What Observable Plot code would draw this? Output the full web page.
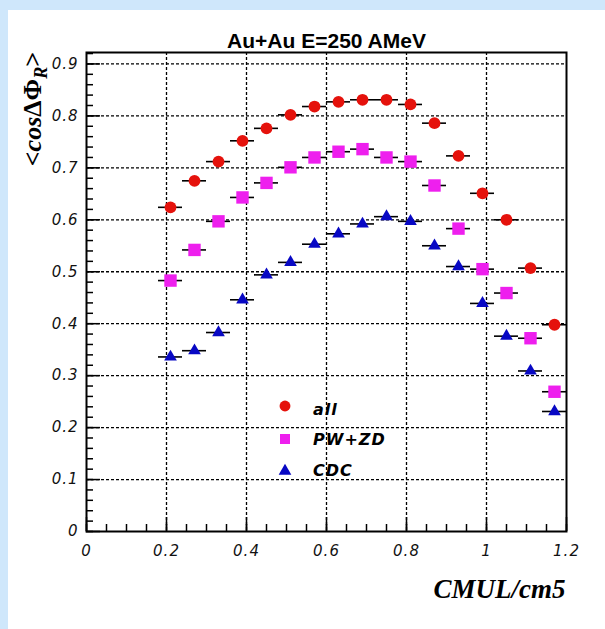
<!DOCTYPE html>
<html>
<head>
<meta charset="utf-8">
<script src="https://cdn.jsdelivr.net/npm/d3@7"></script>
<script src="https://cdn.jsdelivr.net/npm/@observablehq/plot@0.6"></script>
<style>
  html, body { margin: 0; padding: 0; background: #cfe7fb; }
  #page { position: relative; width: 605px; height: 629px; overflow: hidden; }
  #panel { position: absolute; left: 8px; top: 10px; width: 597px; height: 619px; background: #fff; }
  .chart [aria-label$="tick label"] text { letter-spacing: 1px; }
</style>
</head>
<body>
<div id="page"><div id="panel"></div></div>
<script>
// Bin centres of the charged-particle multiplicity (CMUL/cm5)
const cmul = [0.21, 0.27, 0.33, 0.39, 0.45, 0.51, 0.57, 0.63, 0.69, 0.75, 0.81, 0.87, 0.93, 0.99, 1.05, 1.11, 1.17];
const binHalfWidth = 0.03;

// <cos ΔΦ_R> for each detector selection
const allDetectors = [0.624, 0.675, 0.712, 0.752, 0.776, 0.802, 0.818, 0.827, 0.831, 0.831, 0.822, 0.786, 0.723, 0.651, 0.600, 0.507, 0.398];
const pwZd        = [0.483, 0.542, 0.597, 0.643, 0.671, 0.701, 0.720, 0.731, 0.736, 0.720, 0.712, 0.666, 0.583, 0.505, 0.459, 0.372, 0.269];
const cdc         = [0.336, 0.348, 0.383, 0.446, 0.494, 0.518, 0.553, 0.573, 0.592, 0.606, 0.597, 0.550, 0.510, 0.439, 0.376, 0.309, 0.231];

const seriesNames = ["all", "PW+ZD", "CDC"];

const xTicks = [0, 0.2, 0.4, 0.6, 0.8, 1, 1.2];
const xTickLabels = ["0", "0.2", "0.4", "0.6", "0.8", "1", "1.2"];
const yTicks = [0, 0.1, 0.2, 0.3, 0.4, 0.5, 0.6, 0.7, 0.8, 0.9];
const yTickLabels = ["0", "0.1", "0.2", "0.3", "0.4", "0.5", "0.6", "0.7", "0.8", "0.9"];

const titleText = "Au+Au E=250 AMeV";
const xTitle = "CMUL/cm5";

// ---- build tables ----
const toRows = (values) => cmul.map((x, i) => ({x, y: values[i]}));
const series = [
  {name: seriesNames[0], rows: toRows(allDetectors), symbol: "circle", r: 5.9, fill: "#e5120c", legendScale: 0.85},
  {name: seriesNames[1], rows: toRows(pwZd), symbol: "square", r: 7.0, fill: "#ee1fee", legendScale: 0.65},
  {name: seriesNames[2], rows: toRows(cdc), symbol: "triangle", r: 4.7, fill: "#0808c4", legendScale: 1.0}
];

const xLabelOf = new Map(xTicks.map((v, i) => [v, xTickLabels[i]]));
const yLabelOf = new Map(yTicks.map((v, i) => [v, yTickLabels[i]]));
const xMinor = d3.range(0, 1.2001, 0.05).map(v => +v.toFixed(2));
const yMinor = d3.range(0, 0.9201, 0.02).map(v => +v.toFixed(2));

const gridStyle = {stroke: "#000", strokeOpacity: 1, strokeWidth: 1.3, strokeDasharray: "3,2"};
const tickFont = {fontSize: 15, fontStyle: "italic", fontFamily: "DejaVu Sans", fill: "#111"};

const marks = [
  Plot.gridX(xTicks.filter(v => v > 0 && v < 1.2), gridStyle),
  Plot.gridY(yTicks.filter(v => v > 0), gridStyle),
  Plot.axisX(xMinor, {tickSize: -7, tickFormat: () => "", label: null, strokeWidth: 1.5}),
  Plot.axisX(xTicks, {tickSize: -14, tickPadding: 28, tickFormat: d => xLabelOf.get(d), label: null, strokeWidth: 1.5, ...tickFont}),
  Plot.axisY(yMinor, {tickSize: -7, tickFormat: () => "", label: null, strokeWidth: 1.5}),
  Plot.axisY(yTicks, {tickSize: -14, tickPadding: 22, tickFormat: d => yLabelOf.get(d), label: null, strokeWidth: 1.5, ...tickFont})
];

for (const s of series) {
  marks.push(Plot.ruleY(s.rows, {y: "y", x1: d => d.x - binHalfWidth, x2: d => d.x + binHalfWidth, stroke: "#000", strokeWidth: 1.6}));
}
for (const s of series) {
  marks.push(Plot.dot(s.rows, {x: "x", y: "y", symbol: s.symbol, r: s.r, fill: s.fill}));
}

marks.push(
  Plot.frame({stroke: "#000", strokeWidth: 2}),
  Plot.text([titleText], {frameAnchor: "top", lineAnchor: "middle", dy: -11, fontSize: 21, fontWeight: "bold", fontFamily: "Liberation Sans", fill: "#000"}),
  Plot.text([xTitle], {frameAnchor: "bottom-right", lineAnchor: "middle", textAnchor: "end", dx: -1, dy: 58, fontSize: 27, fontWeight: "bold", fontStyle: "italic", fontFamily: "Liberation Serif", fill: "#000"})
);

const chart = Plot.plot({
  className: "chart",
  width: 597,
  height: 619,
  marginLeft: 78,
  marginRight: 39,
  marginTop: 42,
  marginBottom: 98,
  x: {domain: [0, 1.2]},
  y: {domain: [0, 0.922]},
  style: {background: "transparent", color: "#000", fontFamily: "DejaVu Sans"},
  marks
});

const svg = d3.select(chart);

// vertical axis title: <cos ΔΦ_R>
const yTitle = svg.append("text")
  .attr("transform", "translate(33,42) rotate(-90)")
  .attr("text-anchor", "end")
  .attr("font-family", "Liberation Serif")
  .attr("font-weight", "bold")
  .attr("font-size", 26)
  .attr("fill", "#000");
yTitle.append("tspan").text("<");
yTitle.append("tspan").attr("font-style", "italic").text("cos");
yTitle.append("tspan").text("\u0394\u03A6");
yTitle.append("tspan").attr("font-size", 18).attr("font-style", "italic").attr("dy", 6).text("R");
yTitle.append("tspan").attr("dy", -6).text(">");

// legend
const legend = svg.append("g").attr("transform", "translate(277,0)");
const legendMarkerY = [396, 429, 461];
const legendBaseline = [405, 435, 466];
series.forEach((s, i) => {
  const area = Math.PI * s.r * s.r * s.legendScale;
  const sym = {circle: d3.symbolCircle, square: d3.symbolSquare, triangle: d3.symbolTriangle}[s.symbol];
  legend.append("path")
    .attr("d", d3.symbol(sym, area)())
    .attr("transform", `translate(0,${legendMarkerY[i]})`)
    .attr("fill", s.fill);
  legend.append("text")
    .attr("x", 28)
    .attr("y", legendBaseline[i])
    .attr("text-anchor", "start")
    .attr("font-family", "DejaVu Sans")
    .attr("font-weight", "bold")
    .attr("font-style", "italic")
    .attr("font-size", 16)
    .attr("letter-spacing", "1px")
    .attr("fill", "#000")
    .text(s.name);
});

document.getElementById("panel").appendChild(chart);
</script>
</body>
</html>
